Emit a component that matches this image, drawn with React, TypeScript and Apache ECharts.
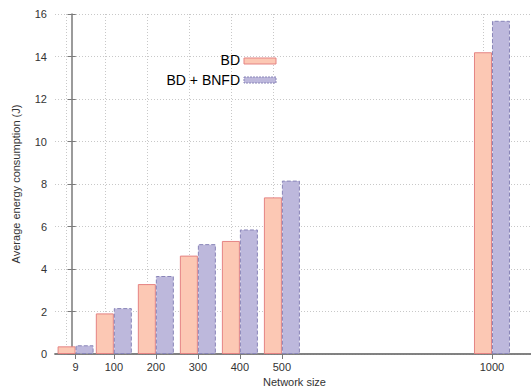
import React, { useEffect, useRef } from "react";
import * as echarts from "echarts";

const networkSizes = [9, 100, 200, 300, 400, 500, 1000];
const bdValues = [0.36, 1.91, 3.29, 4.63, 5.32, 7.37, 14.2];
const bnfdValues = [0.41, 2.16, 3.67, 5.17, 5.86, 8.16, 15.68];
const yTicks = [0, 2, 4, 6, 8, 10, 12, 14, 16];

const FONT = "Liberation Sans";
const AXIS_COLOR = "#7a7a7a";
const LABEL_COLOR = "#333";

export default function App() {
  const ref = useRef<HTMLDivElement>(null);
  useEffect(() => {
    if (!ref.current) return;
    const chart = echarts.init(ref.current, undefined, { renderer: "svg" });
    const gridLine = { type: [1, 2], color: "#c8c8c8", width: 1 };
    chart.setOption({
      animation: false,
      grid: { left: 55, right: -3, top: 14, bottom: 33, outerBoundsMode: "none", containLabel: false },
      xAxis: [
        {
          type: "value",
          min: -40,
          max: 1100,
          position: "bottom",
          name: "Network size",
          nameLocation: "middle",
          nameGap: 21,
          nameTextStyle: { fontFamily: FONT, fontSize: 11, color: LABEL_COLOR },
          axisLine: { show: true, lineStyle: { color: AXIS_COLOR, width: 1.5 } },
          axisTick: { show: false },
          splitLine: { show: false },
          axisLabel: {
            customValues: networkSizes,
            formatter: (v: number) => String(v),
            fontFamily: FONT,
            fontSize: 11,
            color: LABEL_COLOR,
            margin: 7,
          },
        },
        {
          type: "value",
          min: -40,
          max: 1100,
          position: "top",
          axisLine: { show: true, lineStyle: { color: AXIS_COLOR, width: 1.5 } },
          axisTick: {
            show: true,
            inside: true,
            length: 5,
            customValues: networkSizes,
            lineStyle: { color: AXIS_COLOR, width: 1 },
          },
          axisLabel: { show: false },
          splitLine: { show: false },
        },
      ],
      yAxis: [
        {
          type: "value",
          min: 0,
          max: 16,
          interval: 2,
          name: "Average energy consumption (J)",
          nameLocation: "middle",
          nameGap: 34,
          nameTextStyle: { fontFamily: FONT, fontSize: 11, color: LABEL_COLOR },
          axisLine: { show: true, lineStyle: { color: AXIS_COLOR, width: 1.5 } },
          axisTick: { show: true, inside: true, length: 4, lineStyle: { color: AXIS_COLOR } },
          axisLabel: {
            fontFamily: FONT,
            fontSize: 11,
            color: LABEL_COLOR,
            margin: 8,
            customValues: yTicks,
          },
          splitLine: { show: true, lineStyle: gridLine },
        },
        {
          type: "value",
          min: 0,
          max: 16,
          interval: 2,
          position: "right",
          axisLine: { show: false },
          axisTick: { show: true, inside: true, length: 4, lineStyle: { color: AXIS_COLOR } },
          axisLabel: { show: false },
          splitLine: { show: false },
        },
      ],
      series: [
        {
          name: "BD",
          type: "bar",
          xAxisIndex: 0,
          yAxisIndex: 0,
          barWidth: 18,
          barGap: "0%",
          z: 3,
          data: networkSizes.map((s, i) => [s, bdValues[i]]),
          itemStyle: { color: "#fcc8b4", borderColor: "#e58383", borderWidth: 1 },
          markLine: {
            silent: true,
            symbol: "none",
            z: 1,
            label: { show: false },
            lineStyle: gridLine,
            data: networkSizes.map((s) => ({ xAxis: s })),
          },
        },
        {
          name: "BD + BNFD",
          type: "bar",
          xAxisIndex: 0,
          yAxisIndex: 0,
          barWidth: 18,
          barGap: "0%",
          z: 3,
          data: networkSizes.map((s, i) => [s, bnfdValues[i]]),
          itemStyle: {
            color: "#bdb8dc",
            borderColor: "#8985b8",
            borderWidth: 1,
            borderType: "dashed",
          },
        },
      ],
      graphic: [
        {
          type: "text",
          x: 240,
          y: 60,
          z: 10,
          style: {
            text: "BD",
            fontFamily: FONT,
            fontSize: 14,
            fill: "#000",
            align: "right",
            verticalAlign: "middle",
          },
        },
        {
          type: "rect",
          z: 10,
          shape: { x: 244, y: 58, width: 32, height: 6 },
          style: { fill: "#fcc8b4", stroke: "#e58383", lineWidth: 1 },
        },
        {
          type: "text",
          x: 240,
          y: 80,
          z: 10,
          style: {
            text: "BD + BNFD",
            fontFamily: FONT,
            fontSize: 14,
            fill: "#000",
            align: "right",
            verticalAlign: "middle",
          },
        },
        {
          type: "rect",
          z: 10,
          shape: { x: 244, y: 77, width: 32, height: 6 },
          style: { fill: "#bdb8dc", stroke: "#8985b8", lineWidth: 1, lineDash: [2, 1] },
        },
      ],
    });
    return () => chart.dispose();
  }, []);
  return <div ref={ref} style={{ width: 531, height: 387, position: "absolute", left: 0, top: 0, background: "#fff" }} />;
}
